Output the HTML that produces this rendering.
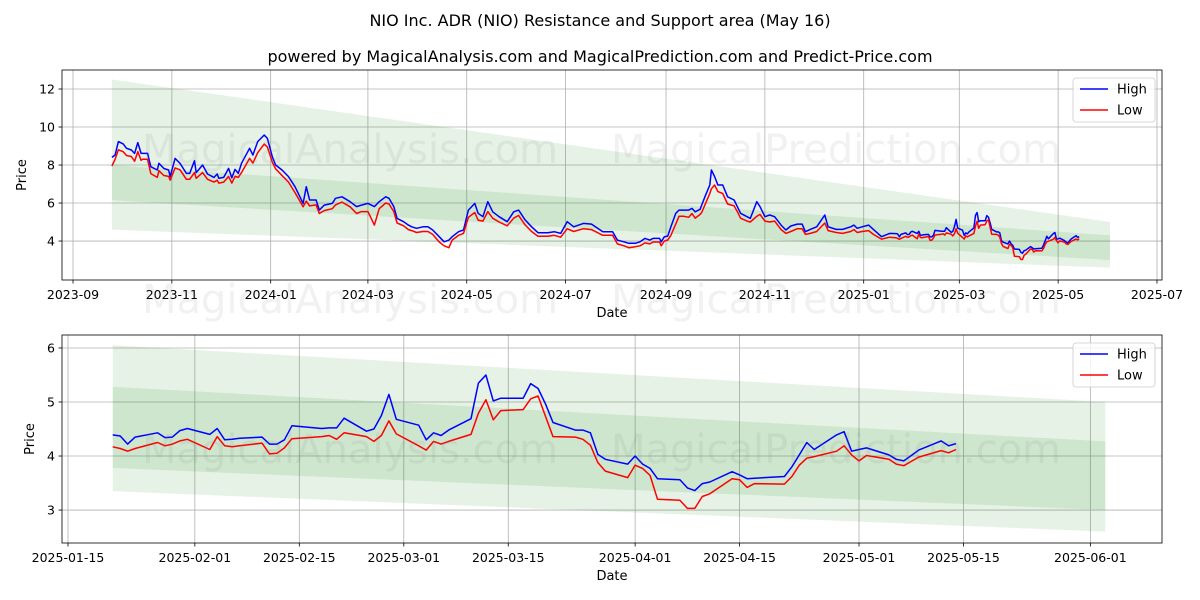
<!DOCTYPE html>
<html><head><meta charset="utf-8">
<style>
html,body{margin:0;padding:0;background:#fff;}
svg{display:block;font-family:"DejaVu Sans","Liberation Sans",sans-serif;}
</style></head>
<body>
<svg id="chart" width="1200" height="600" viewBox="0 0 1200 600" xmlns="http://www.w3.org/2000/svg">
<rect x="0" y="0" width="1200" height="600" fill="#fff"/>
<text x="600" y="26" font-size="16" text-anchor="middle">NIO Inc. ADR (NIO) Resistance and Support area (May 16)</text>
<text x="600" y="62" font-size="16" text-anchor="middle">powered by MagicalAnalysis.com and MagicalPrediction.com and Predict-Price.com</text>
<g id="top"></g>
<g id="bot"></g>
<g font-size="40" fill="#808080" fill-opacity="0.11" text-anchor="middle">
<text x="350" y="163">MagicalAnalysis.com</text>
<text x="836" y="163">MagicalPrediction.com</text>
<text x="350" y="313">MagicalAnalysis.com</text>
<text x="836" y="313">MagicalPrediction.com</text>
<text x="350" y="463">MagicalAnalysis.com</text>
<text x="836" y="463">MagicalPrediction.com</text>
</g>
</svg>
<script>
// ---- data: long history (top chart, before the recent window) ----
const histDates = ["2023-09-25","2023-09-27","2023-09-29","2023-10-02","2023-10-04","2023-10-07","2023-10-09","2023-10-11","2023-10-13","2023-10-14","2023-10-17","2023-10-19","2023-10-23","2023-10-24","2023-10-27","2023-10-30","2023-10-31","2023-11-03","2023-11-06","2023-11-10","2023-11-12","2023-11-15","2023-11-16","2023-11-20","2023-11-23","2023-11-27","2023-11-29","2023-11-30","2023-12-03","2023-12-06","2023-12-08","2023-12-10","2023-12-12","2023-12-14","2023-12-19","2023-12-21","2023-12-24","2023-12-28","2023-12-30","2024-01-02","2024-01-04","2024-01-08","2024-01-12","2024-01-16","2024-01-21","2024-01-23","2024-01-25","2024-01-29","2024-01-31","2024-02-03","2024-02-08","2024-02-10","2024-02-14","2024-02-19","2024-02-23","2024-02-26","2024-03-01","2024-03-05","2024-03-08","2024-03-12","2024-03-14","2024-03-17","2024-03-19","2024-03-23","2024-03-26","2024-03-28","2024-03-31","2024-04-04","2024-04-07","2024-04-10","2024-04-14","2024-04-17","2024-04-20","2024-04-22","2024-04-26","2024-04-29","2024-05-02","2024-05-06","2024-05-08","2024-05-11","2024-05-14","2024-05-17","2024-05-21","2024-05-26","2024-05-30","2024-06-02","2024-06-06","2024-06-10","2024-06-14","2024-06-20","2024-06-24","2024-06-28","2024-07-02","2024-07-06","2024-07-12","2024-07-17","2024-07-24","2024-07-30","2024-08-02","2024-08-06","2024-08-09","2024-08-13","2024-08-16","2024-08-19","2024-08-22","2024-08-24","2024-08-28","2024-08-29","2024-08-31","2024-09-02","2024-09-04","2024-09-07","2024-09-09","2024-09-12","2024-09-15","2024-09-17","2024-09-19","2024-09-22","2024-09-23","2024-09-25","2024-09-28","2024-09-29","2024-10-01","2024-10-03","2024-10-06","2024-10-09","2024-10-13","2024-10-15","2024-10-17","2024-10-21","2024-10-23","2024-10-27","2024-10-29","2024-11-01","2024-11-04","2024-11-07","2024-11-11","2024-11-14","2024-11-17","2024-11-21","2024-11-24","2024-11-26","2024-11-29","2024-12-03","2024-12-08","2024-12-10","2024-12-15","2024-12-19","2024-12-24","2024-12-26","2024-12-28","2024-12-31","2025-01-04","2025-01-07","2025-01-12","2025-01-17"];
const histHigh = [8.40,8.53,9.23,9.11,8.88,8.79,8.61,9.18,8.61,8.61,8.61,7.91,7.74,8.09,7.82,7.74,7.39,8.35,8.09,7.56,7.56,8.23,7.60,8.00,7.53,7.35,7.53,7.30,7.35,7.82,7.33,7.77,7.56,8.09,8.88,8.53,9.23,9.58,9.40,8.44,8.00,7.74,7.39,6.86,5.98,6.86,6.16,6.16,5.63,5.89,5.98,6.25,6.33,6.07,5.81,5.89,5.98,5.81,6.07,6.33,6.25,5.81,5.19,5.02,4.84,4.75,4.67,4.75,4.75,4.58,4.23,3.96,4.05,4.23,4.49,4.58,5.63,5.98,5.46,5.28,6.07,5.54,5.28,5.02,5.54,5.63,5.11,4.75,4.44,4.44,4.49,4.40,5.02,4.75,4.93,4.89,4.49,4.49,4.05,3.96,3.88,3.88,3.96,4.14,4.05,4.14,4.14,3.96,4.23,4.26,4.75,5.46,5.63,5.63,5.63,5.72,5.54,5.67,5.89,6.33,6.95,7.74,7.39,6.95,6.95,6.33,6.16,5.81,5.46,5.28,5.19,6.07,5.81,5.28,5.37,5.28,4.84,4.58,4.79,4.89,4.89,4.49,4.61,4.75,5.37,4.75,4.61,4.61,4.75,4.84,4.67,4.75,4.84,4.61,4.23,4.40];
const histLow = [7.95,8.30,8.80,8.70,8.50,8.45,8.20,8.70,8.25,8.30,8.30,7.55,7.35,7.70,7.45,7.40,7.20,7.85,7.75,7.25,7.25,7.60,7.30,7.60,7.25,7.10,7.20,7.05,7.10,7.40,7.05,7.40,7.35,7.60,8.35,8.10,8.65,9.10,8.95,8.15,7.80,7.45,7.10,6.55,5.80,6.10,5.85,5.90,5.45,5.60,5.70,5.90,6.05,5.80,5.45,5.55,5.55,4.84,5.70,6.00,5.95,5.55,4.95,4.80,4.60,4.55,4.45,4.50,4.50,4.35,3.95,3.75,3.65,4.05,4.30,4.40,5.25,5.50,5.10,5.05,5.55,5.20,5.00,4.80,5.20,5.35,4.85,4.50,4.25,4.25,4.30,4.20,4.65,4.50,4.65,4.60,4.30,4.30,3.85,3.75,3.65,3.70,3.75,3.90,3.85,3.95,3.95,3.75,4.00,4.05,4.30,4.90,5.30,5.30,5.25,5.45,5.20,5.40,5.50,5.90,6.50,6.75,6.95,6.60,6.50,5.95,5.85,5.55,5.20,5.05,5.00,5.30,5.40,5.05,5.00,5.05,4.60,4.40,4.50,4.65,4.65,4.35,4.40,4.50,4.95,4.55,4.45,4.40,4.50,4.60,4.45,4.50,4.55,4.35,4.10,4.20];
// ---- data: recent window (bottom chart, also appended to top) ----
const recentDates = ["2025-01-21","2025-01-22","2025-01-23","2025-01-24","2025-01-27","2025-01-28","2025-01-29","2025-01-30","2025-01-31","2025-02-03","2025-02-04","2025-02-05","2025-02-06","2025-02-07","2025-02-10","2025-02-11","2025-02-12","2025-02-13","2025-02-14","2025-02-18","2025-02-19","2025-02-20","2025-02-21","2025-02-24","2025-02-25","2025-02-26","2025-02-27","2025-02-28","2025-03-03","2025-03-04","2025-03-05","2025-03-06","2025-03-07","2025-03-10","2025-03-11","2025-03-12","2025-03-13","2025-03-14","2025-03-17","2025-03-18","2025-03-19","2025-03-20","2025-03-21","2025-03-24","2025-03-25","2025-03-26","2025-03-27","2025-03-28","2025-03-31","2025-04-01","2025-04-02","2025-04-03","2025-04-04","2025-04-07","2025-04-08","2025-04-09","2025-04-10","2025-04-11","2025-04-14","2025-04-15","2025-04-16","2025-04-17","2025-04-21","2025-04-22","2025-04-23","2025-04-24","2025-04-25","2025-04-28","2025-04-29","2025-04-30","2025-05-01","2025-05-02","2025-05-05","2025-05-06","2025-05-07","2025-05-08","2025-05-09","2025-05-12","2025-05-13","2025-05-14"];
const recentHigh = [4.39,4.37,4.22,4.35,4.43,4.34,4.35,4.47,4.51,4.40,4.51,4.30,4.31,4.33,4.35,4.22,4.22,4.30,4.56,4.51,4.52,4.52,4.70,4.46,4.50,4.75,5.14,4.68,4.57,4.30,4.43,4.38,4.48,4.69,5.35,5.50,5.02,5.07,5.07,5.34,5.25,4.96,4.62,4.48,4.48,4.43,4.03,3.94,3.85,4.00,3.85,3.77,3.58,3.56,3.41,3.36,3.49,3.52,3.71,3.65,3.58,3.59,3.62,3.80,4.02,4.25,4.12,4.39,4.45,4.09,4.12,4.15,4.02,3.94,3.91,4.01,4.11,4.28,4.19,4.23];
const recentLow = [4.17,4.14,4.09,4.14,4.25,4.19,4.22,4.28,4.31,4.12,4.36,4.19,4.17,4.19,4.24,4.04,4.05,4.15,4.32,4.36,4.38,4.31,4.43,4.36,4.27,4.38,4.65,4.41,4.19,4.11,4.27,4.22,4.27,4.40,4.79,5.04,4.67,4.84,4.86,5.06,5.11,4.73,4.36,4.35,4.31,4.20,3.88,3.72,3.60,3.83,3.77,3.64,3.20,3.18,3.03,3.03,3.25,3.30,3.58,3.56,3.42,3.49,3.48,3.62,3.83,3.96,3.99,4.09,4.19,4.02,3.91,4.01,3.94,3.85,3.82,3.90,3.98,4.10,4.06,4.12];
// ---- bands ----
const topBandDates = ["2023-09-25","2025-06-02"];
const topOuterUpper = [12.5,5.0], topOuterLower = [4.6,2.6];
const topInnerUpper = [8.0,4.3], topInnerLower = [6.15,3.0];
const botBandDates = ["2025-01-21","2025-06-03"];
const botOuterUpper = [6.05,5.0], botOuterLower = [3.35,2.6];
const botInnerUpper = [5.28,4.27], botInnerLower = [3.78,3.0];
// ---- ticks ----
const topXTicks = ["2023-09","2023-11","2024-01","2024-03","2024-05","2024-07","2024-09","2024-11","2025-01","2025-03","2025-05","2025-07"];
const topYTicks = [4,6,8,10,12];
const botXTicks = ["2025-01-15","2025-02-01","2025-02-15","2025-03-01","2025-03-15","2025-04-01","2025-04-15","2025-05-01","2025-05-15","2025-06-01"];
const botYTicks = [3,4,5,6];

const NS="http://www.w3.org/2000/svg";
function el(tag,attrs,parent,txt){const e=document.createElementNS(NS,tag);for(const k in attrs)e.setAttribute(k,attrs[k]);if(txt!==undefined)e.textContent=txt;parent.appendChild(e);return e;}
function dnum(s){const p=s.split("-").map(Number);return Date.UTC(p[0],p[1]-1,p[2]||1)/86400000;}

function panel(g,cfg){
  const L=62,R=1162,T=cfg.top,B=cfg.bottom;
  const x=d=>L+(dnum(d)-cfg.x0)/(cfg.x1-cfg.x0)*(R-L);
  const y=v=>B-(v-cfg.y0)/(cfg.y1-cfg.y0)*(B-T);
  const clip=el("clipPath",{id:cfg.id+"clip"},g);el("rect",{x:L,y:T,width:R-L,height:B-T},clip);
  cfg.xt.forEach(t=>{const l=el("line",{x1:x(t),x2:x(t),y1:T,y2:B,stroke:"#b0b0b0","stroke-width":0.8},g);
    
    });
  cfg.yt.forEach(t=>{if(y(t)<T||y(t)>B)return;const l=el("line",{x1:L,x2:R,y1:y(t),y2:y(t),stroke:"#b0b0b0","stroke-width":0.8},g);
    
    });
  const bands=el("g",{"clip-path":"url(#"+cfg.id+"clip)"},g);
  [[cfg.ou,cfg.ol,"outer-band"],[cfg.iu,cfg.il,"inner-band"]].forEach(b=>{
    const d=cfg.bd;
    const pts=[[x(d[0]),y(b[0][0])],[x(d[1]),y(b[0][1])],[x(d[1]),y(b[1][1])],[x(d[0]),y(b[1][0])]];
    const p=el("polygon",{points:pts.map(q=>q.join(",")).join(" "),fill:"#008000","fill-opacity":0.1},bands);
    
    
  });
  [[cfg.hi,"#0000ff","high-line"],[cfg.lo,"#ff0000","low-line"]].forEach(s=>{
    const pts=cfg.dates.map((d,i)=>x(d).toFixed(1)+","+y(s[0][i]).toFixed(1)).join(" ");
    const p=el("polyline",{points:pts,fill:"none",stroke:s[1],"stroke-width":1.5,"stroke-linejoin":"round"},bands);
    
    
  });
  const fr=el("rect",{x:L,y:T,width:R-L,height:B-T,fill:"none",stroke:"#000","stroke-width":0.8},g);
  
  
  cfg.xt.forEach(t=>{el("line",{x1:x(t),x2:x(t),y1:B,y2:B+3.5,stroke:"#000","stroke-width":0.8},g);
    const tx=el("text",{x:x(t),y:B+19,"font-size":"12.5","text-anchor":"middle"},g,t);
    
    });
  cfg.yt.forEach(t=>{if(y(t)<T||y(t)>B+1)return;el("line",{x1:L-3.5,x2:L,y1:y(t),y2:y(t),stroke:"#000","stroke-width":0.8},g);
    const tx=el("text",{x:L-7,y:y(t)+4.5,"font-size":"12.5","text-anchor":"end"},g,String(t));
    
    });
  const xl=el("text",{x:(L+R)/2,y:B+37,"font-size":"13","text-anchor":"middle"},g,"Date");
  
  
  const yl=el("text",{x:0,y:0,"font-size":"13","text-anchor":"middle",transform:"translate("+cfg.ylx+","+((T+B)/2)+") rotate(-90)"},g,"Price");
  
  
  const lg=el("g",{},g);
  
  
  el("rect",{x:1073,y:T+8,width:82,height:44,rx:3,fill:"#fff","fill-opacity":0.8,stroke:"#ccc","stroke-width":0.8},lg);
  [["High","#0000ff",T+19],["Low","#ff0000",T+40]].forEach(e=>{
    const it=el("g",{},lg);
    
    
    el("line",{x1:1080,x2:1108,y1:e[2],y2:e[2],stroke:e[1],"stroke-width":1.5},it);
    el("text",{x:1117,y:e[2]+4.5,"font-size":"13"},it,e[0]);
  });
}
panel(document.getElementById("top"),{id:"t",top:70,bottom:280,x0:dnum("2023-09-01")-6.8,x1:dnum("2023-09-01")+672.1,y0:1.95,y1:13.0,
  xt:topXTicks,yt:topYTicks,dates:histDates.concat(recentDates),hi:histHigh.concat(recentHigh),lo:histLow.concat(recentLow),
  bd:topBandDates,ou:topOuterUpper,ol:topOuterLower,iu:topInnerUpper,il:topInnerLower,ylx:26});
panel(document.getElementById("bot"),{id:"b",top:335,bottom:543,x0:dnum("2025-02-01")-17.8,x1:dnum("2025-02-01")+129.6,y0:2.39,y1:6.24,
  xt:botXTicks,yt:botYTicks,dates:recentDates,hi:recentHigh,lo:recentLow,
  bd:botBandDates,ou:botOuterUpper,ol:botOuterLower,iu:botInnerUpper,il:botInnerLower,ylx:34});
</script>
</body></html>
